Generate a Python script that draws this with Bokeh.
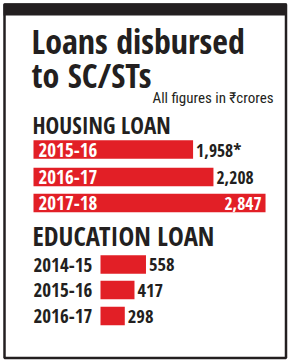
from bokeh.plotting import figure
from bokeh.models import Range1d
from bokeh.core.properties import value
from bokeh.embed import file_html
from bokeh.resources import INLINE

title_lines = ["Loans disbursed", "to SC/STs"]
subtitle = "All figures in ₹crores"

housing_heading = "HOUSING LOAN"
housing_years = ["2015-16", "2016-17", "2017-18"]
housing_values = [1958, 2208, 2847]
housing_labels = ["1,958*", "2,208", "2,847"]

education_heading = "EDUCATION LOAN"
education_years = ["2014-15", "2015-16", "2016-17"]
education_values = [558, 417, 298]
education_labels = ["558", "417", "298"]

W, H = 289, 362
RED = "#e21f26"
INK = "#231f20"
COND = "Open Sans Condensed"
SUB = "Roboto Condensed"

zero_px = 33
px_per_unit = 0.0815
edu_offset = 67 / px_per_unit

p = figure(width=W, height=H, output_backend="svg", toolbar_location=None,
           x_range=Range1d(-zero_px / px_per_unit, (W - zero_px) / px_per_unit),
           y_range=Range1d(H, 0), min_border=0, outline_line_color=None)
p.extra_x_ranges = {"px": Range1d(0, W)}
p.axis.visible = False
p.grid.visible = False
p.background_fill_color = "white"
p.border_fill_color = "white"

# frame
p.quad(left=4, right=285.5, top=4, bottom=357.5, fill_color=None,
       line_color=INK, line_width=2.5, x_range_name="px")
p.quad(left=3, right=286.5, top=3, bottom=15, fill_color=INK,
       line_color=None, x_range_name="px")

# title
p.text(x=[31, 31], y=[40.5, 74.5], text=title_lines, text_font=value(COND),
       text_font_style="bold", text_font_size="34px", text_color=INK,
       text_baseline="middle", x_range_name="px")
p.text(x=[273], y=[97.5], text=[subtitle], text_font=value(SUB),
       text_font_size="15px", text_color=INK, text_align="right",
       text_baseline="middle", x_range_name="px")

# housing
p.text(x=[32], y=[124.5], text=[housing_heading], text_font=value(COND),
       text_font_style="bold", text_font_size="23px", text_color=INK,
       text_baseline="middle", x_range_name="px")
hy = [149, 176.5, 202.5]
p.hbar(y=hy, left=0, right=housing_values, height=18.5, fill_color=RED,
       line_color=None)
p.text(x=[38] * 3, y=hy, text=housing_years, text_font=value(COND),
       text_font_style="bold", text_font_size="19px", text_color="white",
       text_baseline="middle", x_range_name="px")
p.text(x=housing_values[:2], y=hy[:2], text=housing_labels[:2], x_offset=3,
       text_font=value(COND), text_font_style="bold", text_font_size="17.5px",
       text_color=INK, text_baseline="middle")
p.text(x=housing_values[2:], y=hy[2:], text=housing_labels[2:], x_offset=-4,
       text_font=value(COND), text_font_style="bold", text_font_size="17.5px",
       text_color="white", text_align="right", text_baseline="middle")

# education
p.text(x=[32], y=[235], text=[education_heading], text_font=value(COND),
       text_font_style="bold", text_font_size="26.5px", text_color=INK,
       text_baseline="middle", x_range_name="px")
ey = [264, 289.5, 315.5]
p.hbar(y=ey, left=edu_offset, right=[edu_offset + v for v in education_values],
       height=18.5, fill_color=RED, line_color=None)
p.text(x=[33] * 3, y=ey, text=education_years, text_font=value(COND),
       text_font_style="bold", text_font_size="19px", text_color=INK,
       text_baseline="middle", x_range_name="px")
p.text(x=[edu_offset + v for v in education_values], y=ey, text=education_labels,
       x_offset=3, text_font=value(COND), text_font_style="bold",
       text_font_size="18.5px", text_color=INK, text_baseline="middle")

open("out.html", "w").write(file_html(p, INLINE))
